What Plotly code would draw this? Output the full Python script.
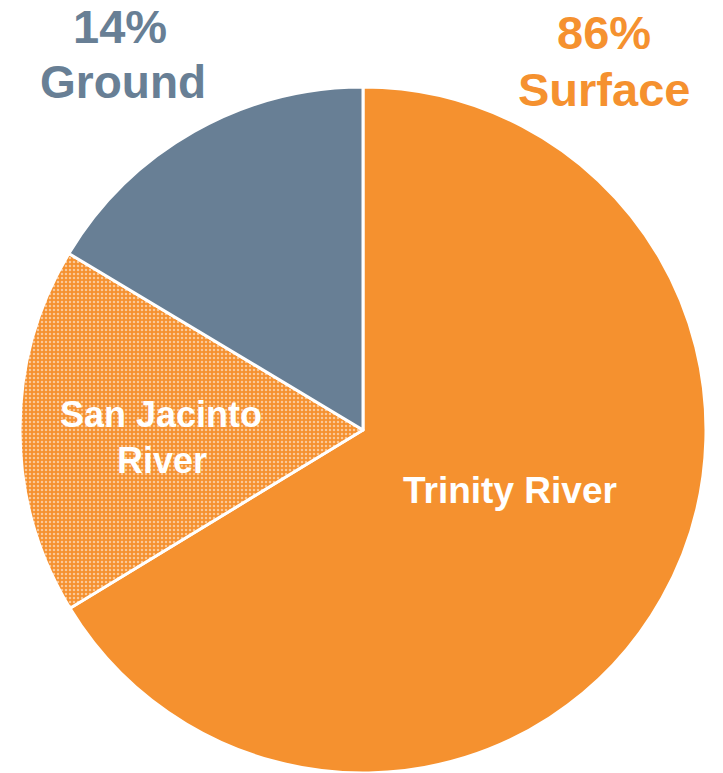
import plotly.graph_objects as go

labels = ["Trinity River", "San Jacinto River", "Ground"]
values = [66.3, 17.3, 16.4]
colors = ["#F5912F", "#F5912F", "#687F95"]
summary_pct = ["14%", "86%"]
summary_name = ["Ground", "Surface"]

W, H = 723, 773
OFF = 8  # page body margin


def px(x, y):
    # page pixel -> paper coords
    return (x - OFF) / W, 1 - (y - OFF) / H


fig = go.Figure()
cx, cy, r = 363, 430, 343
x0, y1 = px(cx - r, cy - r)
x1, y0 = px(cx + r, cy + r)
fig.add_trace(go.Pie(
    labels=labels,
    values=values,
    sort=False,
    direction="clockwise",
    rotation=0,
    textinfo="none",
    hoverinfo="label+percent",
    marker=dict(
        colors=colors,
        line=dict(color="white", width=3),
        pattern=dict(
            shape=["", ".", ""],
            fgcolor="white",
            bgcolor="#F5912F",
            size=4,
            solidity=0.3,
            fillmode="overlay",
        ),
    ),
    domain=dict(x=[x0, x1], y=[max(y0, 0), y1]),
    showlegend=False,
))

anns = []
FONT = "Liberation Sans, Arial"
items = [
    ((510, 490), labels[0], 37, "white"),
    ((161, 414), "San Jacinto", 36, "white"),
    ((162, 460), "River", 36, "white"),
    ((120, 27), summary_pct[0], 47, "#687F95"),
    ((123, 82), summary_name[0], 46, "#687F95"),
    ((604, 33), summary_pct[1], 47, "#F5912F"),
    ((604, 90), summary_name[1], 47, "#F5912F"),
]
for (ax, ay), t, s, c in items:
    x, y = px(ax, ay)
    anns.append(dict(x=x, y=y, xref="paper", yref="paper", text="<b>" + t + "</b>",
                     showarrow=False, xanchor="center", yanchor="middle",
                     font=dict(family=FONT, size=s, color=c)))

fig.update_layout(
    width=W, height=H,
    margin=dict(l=0, r=0, t=0, b=0),
    paper_bgcolor="white",
    plot_bgcolor="white",
    annotations=anns,
)

fig.write_html("out.html")
